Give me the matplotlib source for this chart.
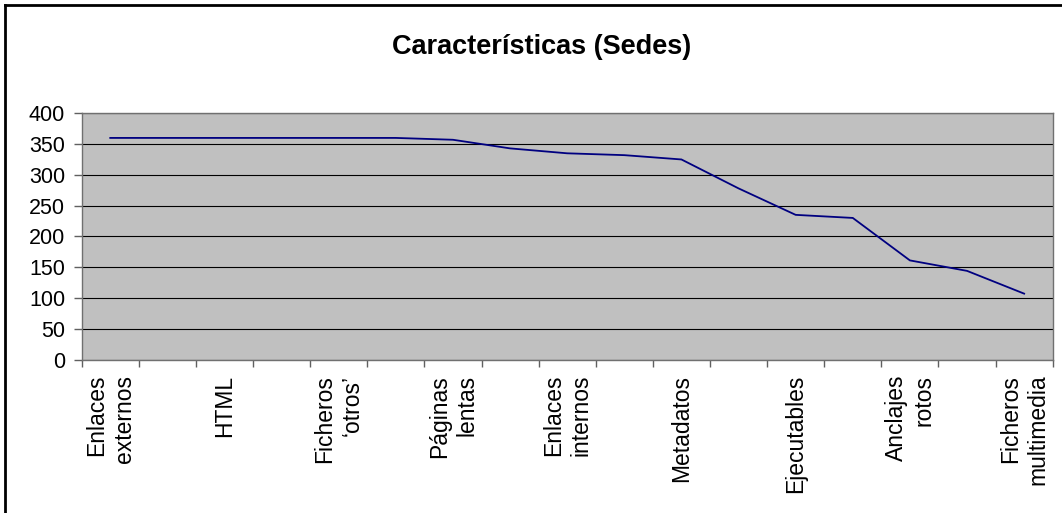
import matplotlib
matplotlib.use("Agg")
import matplotlib.pyplot as plt
from matplotlib.lines import Line2D
import numpy as np

plt.rcParams['font.family'] = ['Liberation Sans', 'DejaVu Sans']

title = "Características (Sedes)"
categories = ["Enlaces\nexternos", "", "HTML", "", "Ficheros\n‘otros’", "",
              "Páginas\nlentas", "", "Enlaces\ninternos", "", "Metadatos", "",
              "Ejecutables", "", "Anclajes\nrotos", "", "Ficheros\nmultimedia"]
values = [360, 360, 360, 360, 360, 360, 357, 343, 335, 332, 325, 278,
          235, 230, 161, 144, 107]
yticks = [0, 50, 100, 150, 200, 250, 300, 350, 400]

W, H = 1062, 513
fig = plt.figure(figsize=(W / 100, H / 100), dpi=100)
fig.patch.set_facecolor('white')

left, right, top, bottom = 81.7, 1052.7, 113.3, 359.5
ax = fig.add_axes([left / W, 1 - bottom / H, (right - left) / W, (bottom - top) / H])
ax.set_facecolor('#C0C0C0')

n = len(values)
x = np.arange(n)
ax.plot(x, values, color='#000080', lw=1.3, solid_joinstyle='miter')

ax.set_xlim(-0.5, n - 0.5)
ax.set_ylim(0, 400)
ax.set_yticks(yticks)
ax.set_yticklabels([str(v) for v in yticks])
ax.yaxis.grid(True, color='black', lw=0.8)
ax.set_axisbelow(True)

# boundary ticks (major) and category labels (minor)
ax.set_xticks(np.arange(n + 1) - 0.5)
ax.set_xticklabels([])
ax.set_xticks(x, minor=True)
ax.set_xticklabels(categories, minor=True, rotation=90, fontsize=16.5,
                   linespacing=1.25, multialignment='right')
ax.tick_params(axis='x', which='major', length=5, width=1, color='#606060', direction='out')
ax.tick_params(axis='x', which='minor', length=0, pad=11)
ax.tick_params(axis='y', length=6, width=1, color='#606060', pad=6, labelsize=15.5)

for s in ax.spines.values():
    s.set_color('#707070')
    s.set_linewidth(1)

fig.text(0.51, 1 - 47 / H, title, ha='center', va='center',
         fontsize=19.5, fontweight='bold')

# chart-area frame (left and top edges visible)
fig.add_artist(Line2D([5 / W, 5 / W], [0, 1 - 5 / H], color='black', lw=2,
                      transform=fig.transFigure))
fig.add_artist(Line2D([5 / W, 1], [1 - 5 / H, 1 - 5 / H], color='black', lw=2,
                      transform=fig.transFigure))

fig.savefig("out.png", dpi=100)
